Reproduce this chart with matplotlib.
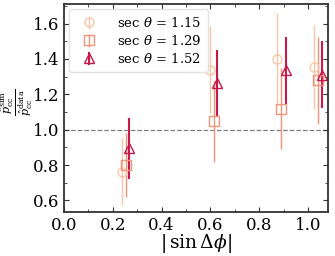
import numpy as np
import matplotlib
matplotlib.use("Agg")
import matplotlib.pyplot as plt

plt.rcParams['font.family'] = ['DejaVu Serif']
plt.rcParams['mathtext.fontset'] = 'dejavuserif'

labels = [r'sec $\theta$ = 1.15', r'sec $\theta$ = 1.29', r'sec $\theta$ = 1.52']
colors = ['#f9c6a8', '#f2937a', '#c9184a']
markers = ['o', 's', '^']

# |sin dphi| positions (each series slightly shifted)
x_circ = [0.239, 0.598, 0.874, 1.025]
x_sq = [0.253, 0.616, 0.889, 1.040]
x_tri = [0.268, 0.628, 0.909, 1.056]

y_circ = [0.762, 1.339, 1.397, 1.354]
y_sq = [0.800, 1.048, 1.119, 1.279]
y_tri = [0.895, 1.263, 1.335, 1.310]

e_circ = [0.190, 0.245, 0.260, 0.237]
e_sq = [0.183, 0.230, 0.227, 0.245]
e_tri = [0.172, 0.190, 0.190, 0.190]

xs = [x_circ, x_sq, x_tri]
ys = [y_circ, y_sq, y_tri]
es = [e_circ, e_sq, e_tri]
lws = [1.0, 1.0, 1.5]

fig = plt.figure(figsize=(3.35, 2.56), dpi=100)
ax = fig.add_axes([0.191, 0.172, 0.788, 0.812])

ax.axhline(1.0, color='gray', ls='--', lw=0.9, zorder=0)

for x, y, e, c, m, lab, lw in zip(xs, ys, es, colors, markers, labels, lws):
    ax.errorbar(x, y, yerr=e, fmt=m, color=c, mfc='none', mec=c, ms=6.5,
                mew=1.0, elinewidth=lw, capsize=0, label=lab)

ax.set_xlim(0, 1.082)
ax.set_ylim(0.535, 1.71)
ax.set_xticks(np.arange(0, 1.01, 0.2))
ax.set_xticks(np.arange(0, 1.08, 0.1), minor=True)
ax.set_yticks(np.arange(0.6, 1.61, 0.2))
ax.set_yticks(np.arange(0.6, 1.71, 0.1), minor=True)
ax.tick_params(which='both', direction='in', top=True, right=True,
               labelsize=12, colors='#333333', labelcolor='black')
ax.tick_params(which='major', length=3.5)
ax.tick_params(which='minor', length=2)
for s in ax.spines.values():
    s.set_color('#333333')
    s.set_linewidth(1.3)

ax.set_xlabel(r'$|\,\sin\Delta\phi|$', fontsize=13.5, labelpad=-1)
fig.text(0.05, 0.60,
         r'$\frac{\hat{p}_{\rm cc}^{\rm sim}}{\hat{p}_{\rm cc}^{\rm data}}$',
         fontsize=11.5, rotation=90, ha='center', va='center')

ax.legend(loc='upper left', fontsize=9.5, frameon=True, fancybox=True,
          edgecolor='#dddddd', handlelength=2.0, handletextpad=1.15,
          borderpad=0.5, labelspacing=0.3, borderaxespad=0.4)

fig.savefig('out.png', dpi=100)
